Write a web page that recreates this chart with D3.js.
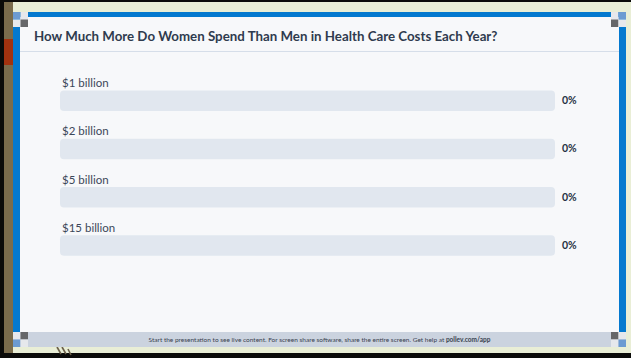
<!DOCTYPE html>
<html>
<head>
    <meta charset="utf-8">
    <script src="https://d3js.org/d3.v7.min.js"></script>
    <style>
        body { margin: 0; background: #000; }
        svg { display: block; }
    </style>
</head>
<body>
    <svg id="chart"></svg>

    <script>
        // Poll options and the share of votes for each (no votes yet)
        const options = ["$1 billion", "$2 billion", "$5 billion", "$15 billion"];
        const percents = [0, 0, 0, 0];
        const title = "How Much More Do Women Spend Than Men in Health Care Costs Each Year?";
        const footerText = "Start the presentation to see live content. For screen share software, share the entire screen. Get help at ";
        const footerLink = "pollev.com/app";

        const width = 631;
        const height = 358;

        const svg = d3.select("#chart")
            .attr("width", width)
            .attr("height", height);

        // Outer backdrop: black edge, pale green wall, olive strip on the left
        svg.append("rect").attr("width", width).attr("height", height).attr("fill", "#0b0b09");
        svg.append("rect").attr("x", 4).attr("y", 2).attr("width", width - 4).attr("height", 351).attr("fill", "#e9eed6");
        svg.append("rect").attr("x", 4).attr("y", 2).attr("width", 9).attr("height", 351).attr("fill", "#7a6c4c");
        svg.append("rect").attr("x", 4).attr("y", 39).attr("width", 9).attr("height", 26).attr("fill", "#a2320f");

        // little dark strokes under the frame
        [[57, 347, 61, 354], [62, 347, 66, 354], [68, 349, 71, 355]].forEach(l => {
            svg.append("line")
                .attr("x1", l[0]).attr("y1", l[1]).attr("x2", l[2]).attr("y2", l[3])
                .attr("stroke", "#6b604a").attr("stroke-width", 1.6);
        });

        // Blue frame and white panel
        svg.append("rect").attr("x", 13).attr("y", 12).attr("width", 613).attr("height", 335).attr("fill", "#0479cf");
        svg.append("rect").attr("x", 20).attr("y", 17).attr("width", 599).attr("height", 316).attr("fill", "#f7f8fa");

        // footer band
        svg.append("rect").attr("x", 13).attr("y", 332).attr("width", 613).attr("height", 15).attr("fill", "#cbd3df");

        // checker corners
        const lb = "#6c9bd2", lg = "#e6e8ec", dg = "#666769";
        const corners = [
            { x: 13, y: 12, c: [lb, lg, lg, dg] },
            { x: 611, y: 12, c: [lg, lb, dg, lg] },
            { x: 13, y: 332, c: [lg, dg, lb, lg] },
            { x: 611, y: 332, c: [dg, lg, lg, lb] }
        ];
        corners.forEach(k => {
            k.c.forEach((col, i) => {
                svg.append("rect")
                    .attr("x", k.x + (i % 2) * 7.5)
                    .attr("y", k.y + Math.floor(i / 2) * 7.5)
                    .attr("width", 7.5).attr("height", 7.5)
                    .attr("fill", col);
            });
        });

        // Title
        const titleText = svg.append("text")
            .attr("x", 34).attr("y", 41)
            .attr("fill", "#2f3b4e")
            .style("font-family", "Lato, sans-serif")
            .style("font-weight", 700)
            .style("font-size", "14px")
            .text(title);
        const tw = titleText.node().getComputedTextLength();
        titleText.style("font-size", (14 * 464 / tw) + "px");

        svg.append("line")
            .attr("x1", 20).attr("x2", 619).attr("y1", 51.5).attr("y2", 51.5)
            .attr("stroke", "#d6dee9").attr("stroke-width", 1);

        // Scales
        const y = d3.scaleBand().domain(options).range([70, 263]).padding(0);
        const x = d3.scaleLinear().domain([0, 100]).range([60, 555]);

        const rows = svg.append("g").selectAll("g")
            .data(options.map((o, i) => ({ label: o, value: percents[i] })))
            .join("g")
            .attr("transform", d => `translate(0,${y(d.label)})`);

        rows.append("text")
            .attr("x", 62).attr("y", 17)
            .attr("fill", "#3c4759")
            .style("font-family", "Lato, sans-serif")
            .style("font-size", "11.5px")
            .text(d => d.label);

        // track
        rows.append("rect")
            .attr("x", x(0)).attr("y", 20.5)
            .attr("width", x(100) - x(0)).attr("height", 20.5)
            .attr("rx", 4)
            .attr("fill", "#e1e7ef");

        // filled value
        rows.append("rect")
            .attr("x", x(0)).attr("y", 20.5)
            .attr("width", d => x(d.value) - x(0)).attr("height", 20.5)
            .attr("rx", 4)
            .attr("fill", "#0479cf");

        rows.append("text")
            .attr("x", 562).attr("y", 34)
            .attr("fill", "#263244")
            .style("font-family", "Lato, sans-serif")
            .style("font-weight", 700)
            .style("font-size", "10.5px")
            .text(d => d.value + "%");

        // Footer text
        const foot = svg.append("text")
            .attr("x", 319.5).attr("y", 342.3)
            .attr("text-anchor", "middle")
            .attr("fill", "#39424f")
            .style("font-family", "Lato, sans-serif")
            .style("font-size", "6.5px");
        foot.append("tspan").text(footerText);
        foot.append("tspan").style("font-weight", 700).text(footerLink);
        const fw = foot.node().getComputedTextLength();
        foot.style("font-size", (6.5 * 342 / fw) + "px");
    </script>
</body>
</html>
